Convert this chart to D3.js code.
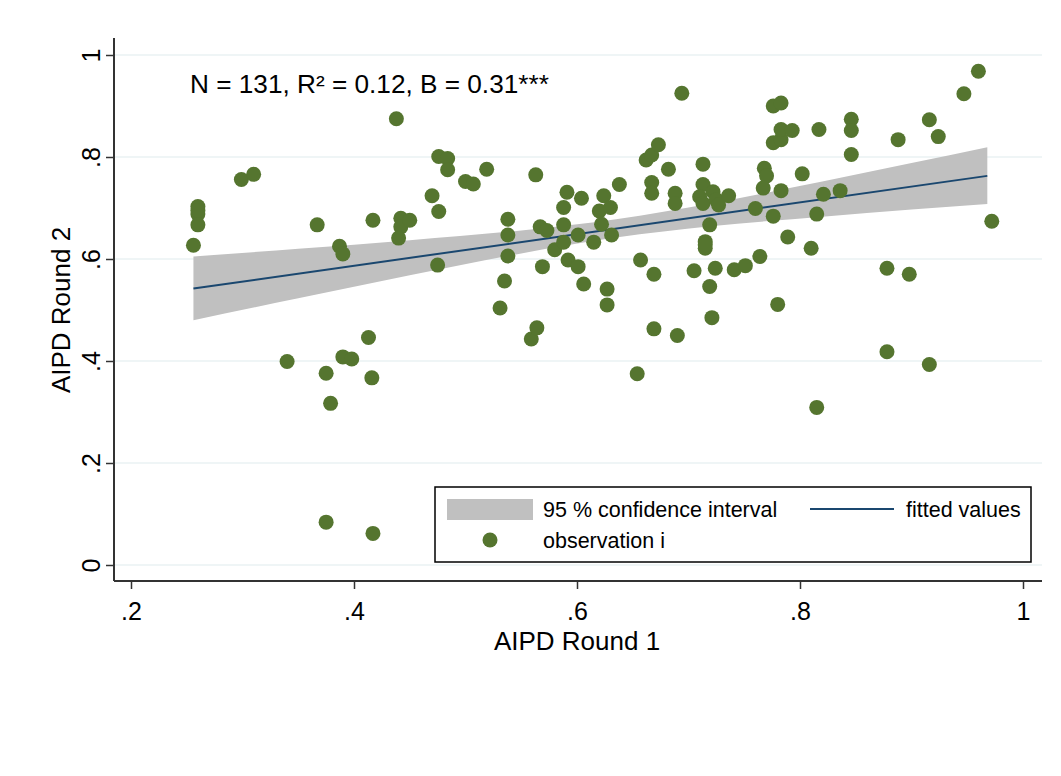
<!DOCTYPE html>
<html>
<head>
<meta charset="utf-8">
<script src="https://cdn.jsdelivr.net/npm/d3@7"></script>
<style>
  html, body { margin: 0; padding: 0; background: #ffffff; }
  svg { display: block; font-family: "Liberation Sans", Arial, sans-serif; }
</style>
</head>
<body>
<svg id="chart" width="1061" height="776"></svg>
<script>
// ---- data ----
const obsX = [0.256,0.260,0.260,0.260,0.299,0.310,0.340,0.367,0.375,0.375,0.379,0.387,0.390,0.390,0.398,0.413,0.416,0.417,0.417,0.438,
  0.442,0.442,0.440,0.450,0.470,0.476,0.476,0.484,0.484,0.475,0.500,0.507,0.519,0.531,0.535,0.538,0.538,0.538,0.559,0.564,
  0.563,0.567,0.573,0.569,0.580,0.588,0.588,0.588,0.591,0.592,0.601,0.601,0.604,0.606,0.615,0.620,0.622,0.624,0.627,0.627,
  0.630,0.631,0.638,0.654,0.657,0.662,0.667,0.673,0.667,0.667,0.669,0.669,0.682,0.688,0.688,0.690,0.694,0.705,0.713,0.713,
  0.710,0.713,0.715,0.715,0.719,0.719,0.721,0.722,0.725,0.727,0.736,0.724,0.741,0.751,0.760,0.764,0.768,0.770,0.767,0.776,
  0.783,0.776,0.783,0.783,0.793,0.783,0.776,0.780,0.789,0.802,0.810,0.815,0.815,0.817,0.821,0.836,0.846,0.846,0.846,0.878,
  0.878,0.888,0.898,0.916,0.916,0.924,0.947,0.960,0.972,0.715,0.260];
const obsY = [0.627,0.703,0.688,0.667,0.756,0.766,0.399,0.667,0.376,0.084,0.317,0.625,0.610,0.408,0.404,0.446,0.367,0.062,0.676,0.875,
  0.680,0.663,0.641,0.676,0.724,0.693,0.801,0.797,0.775,0.588,0.752,0.747,0.776,0.504,0.557,0.678,0.647,0.606,0.443,0.465,
  0.765,0.663,0.656,0.585,0.618,0.701,0.667,0.633,0.731,0.598,0.647,0.585,0.719,0.551,0.633,0.694,0.668,0.724,0.541,0.510,
  0.701,0.647,0.746,0.375,0.598,0.794,0.804,0.824,0.750,0.729,0.570,0.463,0.776,0.729,0.709,0.450,0.925,0.577,0.786,0.746,
  0.722,0.709,0.634,0.621,0.667,0.546,0.485,0.732,0.716,0.706,0.724,0.582,0.579,0.587,0.699,0.605,0.778,0.763,0.739,0.900,
  0.906,0.828,0.834,0.854,0.852,0.734,0.684,0.511,0.643,0.767,0.621,0.688,0.309,0.854,0.727,0.734,0.874,0.852,0.805,0.582,
  0.418,0.834,0.570,0.873,0.393,0.840,0.924,0.968,0.674,0.628,0.695];

// fitted line and 95% CI band
const fitX = [0.256, 0.968];
const fitY = [0.542, 0.763];
const ciX    = [0.256, 0.35, 0.45, 0.55, 0.635, 0.72, 0.82, 0.90, 0.968];
const ciLow  = [0.480, 0.523, 0.568, 0.611, 0.642, 0.664, 0.683, 0.697, 0.708];
const ciHigh = [0.605, 0.620, 0.637, 0.656, 0.678, 0.709, 0.752, 0.788, 0.819];

const xTicks = [0.2, 0.4, 0.6, 0.8, 1];
const yTicks = [0, 0.2, 0.4, 0.6, 0.8, 1];
const xTickLabels = [".2", ".4", ".6", ".8", "1"];
const yTickLabels = ["0", ".2", ".4", ".6", ".8", "1"];
const annotation = "N = 131, R\u00B2 = 0.12, B = 0.31***";
const xTitle = "AIPD Round 1";
const yTitle = "AIPD Round 2";
const legendItems = ["95 % confidence interval", "fitted values", "observation i"];

// ---- drawing ----
const svg = d3.select("#chart");
const plotLeft = 114, plotRight = 1042, plotTop = 38, plotBottom = 581;
const x = d3.scaleLinear().domain([0.2, 1]).range([131, 1023]);
const y = d3.scaleLinear().domain([0, 1]).range([565, 55]);

const colGreen = "#55752f", colNavy = "#1a476f", colBand = "#c0c0c0", colGrid = "#eaf2f3", colAxis = "#333333";

// gridlines
svg.append("g").selectAll("line").data(yTicks).join("line")
  .attr("x1", plotLeft).attr("x2", plotRight)
  .attr("y1", d => y(d)).attr("y2", d => y(d))
  .attr("stroke", colGrid).attr("stroke-width", 1.6);

// CI band
const band = ciX.map((v, i) => ({x: v, lo: ciLow[i], hi: ciHigh[i]}));
svg.append("path").datum(band)
  .attr("d", d3.area().x(d => x(d.x)).y0(d => y(d.lo)).y1(d => y(d.hi)).curve(d3.curveMonotoneX))
  .attr("fill", colBand);

// fitted line
svg.append("path").datum(fitX.map((v, i) => [v, fitY[i]]))
  .attr("d", d3.line().x(d => x(d[0])).y(d => y(d[1])))
  .attr("fill", "none").attr("stroke", colNavy).attr("stroke-width", 2);

// observations
svg.append("g").selectAll("circle").data(obsX.map((v, i) => [v, obsY[i]])).join("circle")
  .attr("cx", d => x(d[0])).attr("cy", d => y(d[1])).attr("r", 7.5)
  .attr("fill", colGreen);

// axes
const xAxis = d3.axisBottom(x).tickValues(xTicks).tickFormat((d, i) => xTickLabels[i]).tickSize(8).tickPadding(13);
const gx = svg.append("g").attr("transform", `translate(0,${plotBottom})`).call(xAxis);
gx.select(".domain").attr("d", `M${plotLeft},0H${plotRight}`).attr("stroke", colAxis).attr("stroke-width", 2);
gx.selectAll(".tick line").attr("stroke", colAxis).attr("stroke-width", 1.5);
gx.selectAll(".tick text").attr("font-size", 25).attr("fill", "#000").attr("font-family", "Liberation Sans, Arial, sans-serif");

const yAxis = d3.axisLeft(y).tickValues(yTicks).tickFormat((d, i) => yTickLabels[i]).tickSize(8).tickPadding(0);
const gy = svg.append("g").attr("transform", `translate(${plotLeft},0)`).call(yAxis);
gy.select(".domain").attr("d", `M0,${plotTop}V${plotBottom}`).attr("stroke", colAxis).attr("stroke-width", 2);
gy.selectAll(".tick line").attr("stroke", colAxis).attr("stroke-width", 1.5);
gy.selectAll(".tick text")
  .attr("font-size", 25).attr("fill", "#000").attr("font-family", "Liberation Sans, Arial, sans-serif")
  .attr("text-anchor", "middle").attr("x", null).attr("dy", null)
  .attr("transform", "translate(-21,0) rotate(-90)")
  .attr("dominant-baseline", "middle");

// axis titles
svg.append("text").attr("x", 577).attr("y", 650).attr("text-anchor", "middle")
  .attr("font-size", 26).text(xTitle);
svg.append("text").attr("transform", "translate(70,310) rotate(-90)").attr("text-anchor", "middle")
  .attr("font-size", 26).text(yTitle);

// annotation
svg.append("text").attr("x", 190).attr("y", 93).attr("font-size", 26.2).text(annotation);

// legend
const lg = svg.append("g");
lg.append("rect").attr("x", 435).attr("y", 487).attr("width", 596).attr("height", 75)
  .attr("fill", "#fff").attr("stroke", "#000").attr("stroke-width", 1.5);
lg.append("rect").attr("x", 447).attr("y", 499).attr("width", 86).attr("height", 21).attr("fill", colBand);
lg.append("text").attr("x", 543).attr("y", 517).attr("font-size", 21.5).text(legendItems[0]);
lg.append("line").attr("x1", 810).attr("x2", 894).attr("y1", 509).attr("y2", 509)
  .attr("stroke", colNavy).attr("stroke-width", 2);
lg.append("text").attr("x", 906).attr("y", 517).attr("font-size", 21.5).text(legendItems[1]);
lg.append("circle").attr("cx", 490).attr("cy", 540).attr("r", 7.5).attr("fill", colGreen);
lg.append("text").attr("x", 543).attr("y", 548).attr("font-size", 21.5).text(legendItems[2]);
</script>
</body>
</html>
